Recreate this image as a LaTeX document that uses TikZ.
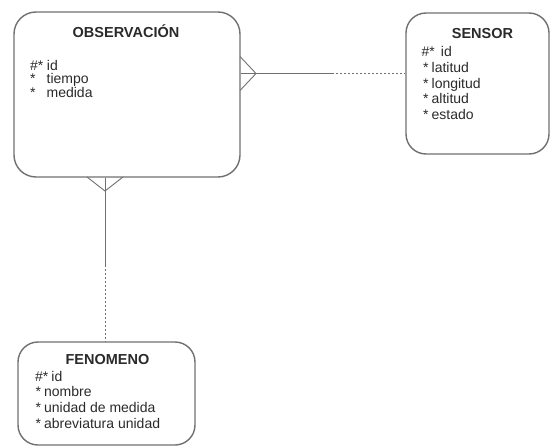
\documentclass[tikz,border=0pt]{standalone}
\usepackage{fontspec}
\setmainfont{Liberation Sans}
\definecolor{edge}{HTML}{707070}
\definecolor{ink}{HTML}{2A2A2A}
\begin{document}
\begin{tikzpicture}[x=1pt,y=-1pt,
  entity/.style={draw=edge,line width=1.4pt,rounded corners=22pt,inner sep=0pt},
  ttl/.style={font=\fontsize{14.5}{16}\selectfont\bfseries,text=ink,anchor=base,inner sep=0pt},
  attr/.style={font=\fontsize{14}{15}\selectfont,text=ink,anchor=base west,inner sep=0pt},
  link/.style={draw=edge,line width=0.9pt},
  opt/.style={draw=edge,line width=0.9pt,dash pattern=on 2pt off 2pt}]
\useasboundingbox (0,0) rectangle (551,447);

% OBSERVACION
\node[entity,minimum width=226pt,minimum height=165pt] (obs) at (127,94.5) {};
\node[ttl] (obst) at (126,37.5) {OBSERVACIÓN};
\node[attr] (obs1) at (30,70) {\#*\hspace{3.5pt}id};
\node[attr] (obs2) at (30,83.5) {*\hspace{11pt}tiempo};
\node[attr] (obs3) at (30,97) {*\hspace{11pt}medida};

% SENSOR
\node[entity,rounded corners=20pt,minimum width=143pt,minimum height=141pt] (sen) at (477.5,83.5) {};
\node[ttl] (sent) at (482.5,38.5) {SENSOR};
\node[attr] (sen1) at (421.5,56) {\#*\hspace{6pt}id};
\node[attr] (sen2) at (423,72) {*\hspace{3pt}latitud};
\node[attr] (sen3) at (423,88) {*\hspace{3pt}longitud};
\node[attr] (sen4) at (423,103.5) {*\hspace{3pt}altitud};
\node[attr] (sen5) at (423,119) {*\hspace{3pt}estado};

% FENOMENO
\node[entity,rounded corners=20pt,minimum width=177pt,minimum height=103pt] (fen) at (106.5,393.5) {};
\node[ttl] (fent) at (107.5,364) {FENOMENO};
\node[attr] (fen1) at (35,381.5) {\#*\hspace{3pt}id};
\node[attr] (fen2) at (35.5,396.5) {*\hspace{3pt}nombre};
\node[attr] (fen3) at (35.5,412) {*\hspace{3pt}unidad de medida};
\node[attr] (fen4) at (35.5,428) {*\hspace{3pt}abreviatura unidad};

% connector OBSERVACION -- SENSOR
\coordinate (ra) at (256,73.5);
\coordinate (rs) at (332,73.5);
\coordinate (rt) at (240,56.5);
\coordinate (rb) at (240,90.5);
\draw[link] (obs.east |- ra) -- (rs);
\draw[opt] (rs) -- (sen.west |- rs);
\draw[link] (rt) -- (ra) -- (rb);

% connector OBSERVACION -- FENOMENO
\coordinate (ba) at (105,191);
\coordinate (bs) at (105,265);
\coordinate (bl) at (87,177);
\coordinate (br) at (123,177);
\draw[link] (obs.south -| ba) -- (bs);
\draw[opt] (bs) -- (fen.north -| bs);
\draw[link] (bl) -- (ba) -- (br);
\end{tikzpicture}
\end{document}
